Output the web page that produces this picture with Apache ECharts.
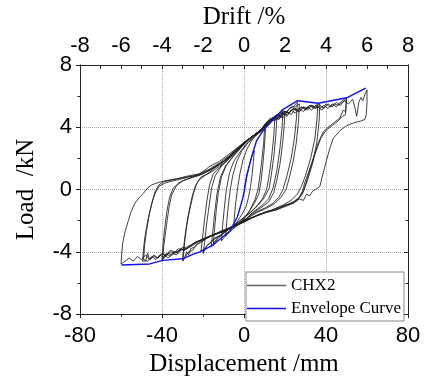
<!DOCTYPE html>
<html>
<head>
<meta charset="utf-8">
<script src="https://cdn.jsdelivr.net/npm/echarts@6/dist/echarts.min.js"></script>
<style>html,body{margin:0;padding:0;background:#fff}#c{width:427px;height:382px}</style>
</head>
<body>
<div id="c"></div>
<script>
// Axis ranges / ticks
var dispTicks = [-80, 80, 40];   // min, max, interval (mm)
var driftTicks = [-8, 8, 2];     // min, max, interval (%)
var loadTicks = [-8, 8, 4];      // min, max, interval (kN)

// Hysteresis cycles (displacement mm, load kN), in loading order
var c05 = [[0,0],[1,0.6],[2,1.2],[3,1.8],[4,2.2],[5,2.5],[4.6,1.8],[4,1.0],[3.2,0.2],[2.2,-0.5],[1,-1.1],[-1,-1.6],[-3,-2.0],[-5,-2.4],[-4.6,-1.6],[-4,-0.8],[-3,0.2],[-2,1.0],[-0.5,1.9],[1.5,2.6],[3.5,3.1]];
var c10a = [[6,3.5],[8,3.7],[10,3.9],[9.6,3.0],[8.8,2.0],[7.8,0.9],[6.8,0.0],[5.5,-0.6],[3,-1.3],[0,-1.9],[-3,-2.2],[-6,-2.6],[-9,-3.0],[-8.5,-2.2],[-7.8,-1.2],[-6.8,-0.1],[-5.5,0.9],[-3.5,1.8],[-1,2.5],[2,3.0],[5,3.4]];
var c10b = [[7,3.6],[9,3.8],[10.5,3.9],[10,2.8],[9.2,1.6],[8.3,0.5],[7.2,-0.3],[5,-0.9],[2,-1.5],[-1,-2.0],[-4,-2.4],[-8,-2.8],[-11,-3.3],[-10.5,-2.4],[-9.6,-1.2],[-8.6,0],[-7,1.1],[-5,1.8],[-2,2.4],[1,2.9],[4,3.3]];
var c15a = [[7,3.6],[10,4.0],[12.5,4.3],[15,4.5],[14.5,3.4],[13.4,2.0],[12,0.7],[11,0.0],[9,-0.6],[6,-1.1],[2,-1.6],[-2,-2.0],[-6,-2.4],[-10,-2.8],[-13,-3.2],[-15,-3.6],[-14.4,-2.6],[-13.5,-1.3],[-12.5,-0.2],[-11,0.8],[-8.5,1.6],[-5,2.2],[-1,2.8],[3,3.3],[6,3.6]];
var c15b = [[9,3.9],[12,4.2],[14,4.5],[16,4.6],[15.6,3.6],[14.6,2.2],[13.3,0.9],[12.3,0.1],[10,-0.5],[7,-1.0],[3,-1.5],[-1,-1.9],[-5,-2.3],[-9,-2.7],[-13,-3.1],[-16,-3.7],[-15.3,-2.8],[-14.3,-1.5],[-13.2,-0.3],[-11.5,0.8],[-9,1.5],[-6,2.0],[-2,2.6],[2,3.2],[5.5,3.5]];
var c20a = [[8,3.8],[11,4.2],[13,4.5],[15.5,4.7],[17,4.8],[19,5.1],[18.6,4.0],[17.5,2.6],[16,1.2],[14.2,0.1],[12,-0.6],[9,-1.0],[5,-1.4],[1,-1.9],[-3,-2.2],[-7,-2.5],[-11,-2.9],[-14,-3.1],[-16,-3.4],[-18,-3.6],[-20,-4.1],[-19.2,-3.4],[-18.4,-2.4],[-17.4,-1.4],[-15.8,0.1],[-14,0.9],[-11,1.5],[-7,2.0],[-3,2.6],[1,3.1],[5,3.5]];
var c20b = [[9,3.9],[12,4.3],[14,4.5],[16,4.8],[18,4.9],[20,5.0],[19.6,4.1],[18.8,2.9],[17.5,1.6],[16,0.6],[14.5,-0.2],[12,-0.8],[8,-1.2],[4,-1.5],[0,-2.0],[-4,-2.3],[-8,-2.6],[-12,-3.0],[-15,-3.2],[-18,-3.6],[-21,-4.0],[-20.3,-3.2],[-19.3,-2.0],[-18.2,-0.8],[-16.8,0.3],[-15,1.0],[-12,1.4],[-8,1.9],[-4,2.5],[0,3.0],[4,3.4]];
var c26a = [[8,3.8],[11,4.2],[14,4.6],[16,4.5],[18,4.9],[20,4.8],[22,5.2],[24,5.3],[26,5.6],[25.6,4.6],[24.6,3.3],[23,2.0],[21,0.9],[19,0.0],[17,-0.5],[14,-0.9],[10,-1.2],[5,-1.5],[0,-2.0],[-5,-2.4],[-10,-2.7],[-15,-2.9],[-19,-3.2],[-22,-3.4],[-24,-3.7],[-26,-3.8],[-27,-4.2],[-28,-4.0],[-29,-4.4],[-30,-4.5],[-29.3,-3.6],[-28.5,-2.7],[-27.5,-1.9],[-26,-1.0],[-24.5,-0.2],[-23,0.4],[-21,0.8],[-18,1.0],[-14,1.4],[-9,1.9],[-4,2.5],[0,3.0],[4,3.4]];
var c26b = [[8,3.8],[11,4.3],[13,4.4],[15,4.7],[17,4.6],[19,5.0],[21,5.0],[23,5.3],[25,5.3],[27,5.5],[26.6,4.4],[25.5,3.0],[24,1.8],[22,0.7],[20.5,0.0],[18,-0.5],[15,-0.9],[11,-1.2],[6,-1.5],[1,-1.9],[-4,-2.3],[-9,-2.6],[-14,-2.9],[-18,-3.1],[-21,-3.4],[-23,-3.5],[-25,-3.9],[-27,-4.0],[-28.5,-4.3],[-29.8,-4.6],[-29,-3.4],[-28,-2.4],[-26.8,-1.4],[-25.4,-0.5],[-23.8,0.2],[-22,0.6],[-19,0.9],[-15,1.2],[-10,1.7],[-5,2.3],[-1,2.8],[3,3.3]];
var c36a = [[8,3.8],[11,4.3],[14,4.5],[16,4.8],[18,4.6],[20,5.0],[22,4.9],[24,5.2],[26,5.1],[28,5.3],[30,5.2],[32,5.4],[34,5.3],[36,5.5],[35.6,4.5],[34.5,3.2],[32.5,2.0],[30,0.9],[28,0.2],[26,-0.3],[23,-0.7],[19,-1.0],[14,-1.3],[8,-1.6],[2,-1.9],[-3,-2.2],[-8,-2.5],[-13,-2.8],[-18,-3.1],[-22,-3.3],[-25,-3.6],[-28,-3.8],[-30,-3.7],[-32,-4.1],[-34,-4.0],[-36,-4.3],[-38,-4.1],[-39.7,-4.5],[-39.2,-3.7],[-38.5,-3.0],[-37.5,-2.0],[-36.5,-1.1],[-35.3,-0.35],[-32.8,0.27],[-29.6,0.58],[-25,0.8],[-20,1.0],[-15,1.4],[-10,1.8],[-5,2.3],[0,2.9],[4,3.4]];
var c36b = [[8,3.8],[12,4.4],[15,4.6],[17,4.5],[19,4.9],[21,4.8],[23,5.1],[25,5.2],[27,5.0],[29,5.3],[31,5.2],[33,5.4],[35,5.3],[37,5.5],[36.6,4.3],[35.5,3.0],[33.5,1.7],[31,0.6],[29,-0.1],[26.5,-0.6],[23,-0.9],[18,-1.1],[12,-1.4],[6,-1.7],[0,-2.1],[-5,-2.4],[-10,-2.7],[-15,-2.9],[-20,-3.2],[-24,-3.4],[-27,-3.7],[-29,-3.9],[-31,-3.8],[-33,-4.2],[-35,-4.1],[-37,-4.4],[-38.5,-4.2],[-40,-4.5],[-39.4,-3.4],[-38.6,-2.4],[-37.6,-1.4],[-36.3,-0.5],[-34.5,0.1],[-31,0.5],[-27,0.7],[-22,0.9],[-17,1.2],[-12,1.6],[-7,2.1],[-2,2.7],[3,3.3]];
var c50a = [[8,3.8],[12,4.4],[15,4.7],[17,4.5],[19,4.9],[21,4.7],[23,5.1],[25,4.9],[27,5.2],[29,5.0],[31,5.3],[33,5.1],[35,5.4],[37,5.2],[39,5.4],[41,5.2],[43,5.5],[45,5.3],[47,5.6],[50,5.9],[49.6,5.0],[48.4,5.1],[46.8,4.6],[44,4.3],[41,4.0],[38.7,3.7],[36.2,3.0],[34.5,2.3],[33,1.7],[31.5,1.1],[29.8,0.5],[28.5,-0.1],[27,-0.5],[24,-0.8],[19,-1.1],[13,-1.4],[7,-1.6],[1,-2.0],[-5,-2.4],[-10,-2.7],[-15,-2.9],[-20,-3.2],[-24,-3.4],[-28,-3.8],[-31,-3.9],[-34,-4.1],[-36,-4.0],[-38,-4.3],[-40,-4.1],[-42,-4.4],[-44,-4.2],[-46,-4.5],[-47,-4.1],[-48,-4.6],[-49.5,-4.6],[-49,-3.8],[-48.3,-3.0],[-47.2,-2.2],[-45.9,-1.4],[-44.6,-0.7],[-43.4,-0.15],[-41.5,0.3],[-39,0.5],[-34,0.65],[-28,0.85],[-22,1.0],[-17,1.3],[-12,1.7],[-7,2.2],[-2,2.8],[3,3.3]];
var c50b = [[8,3.8],[11,4.3],[14,4.6],[16,4.8],[18,4.7],[20,5.0],[22,4.9],[24,5.2],[26,5.0],[28,5.3],[30,5.1],[32,5.4],[34,5.2],[36,5.3],[38,5.1],[40,5.5],[42,5.3],[44,5.5],[46,5.4],[48,5.6],[50,5.8],[49.5,4.8],[48,4.7],[46,4.4],[43,4.1],[40,3.8],[37.5,3.3],[35.5,2.6],[33.5,1.8],[31.5,1.0],[30,0.3],[28.5,-0.3],[26,-0.7],[22,-1.0],[16,-1.3],[10,-1.5],[4,-1.8],[-2,-2.2],[-7,-2.5],[-12,-2.8],[-17,-3.0],[-22,-3.3],[-26,-3.6],[-29,-3.9],[-32,-3.8],[-35,-4.2],[-37,-4.1],[-39,-4.4],[-41,-4.2],[-43,-4.5],[-45,-4.3],[-47,-4.6],[-49,-4.5],[-48.5,-3.6],[-47.6,-2.7],[-46.4,-1.7],[-45,-0.9],[-43.5,-0.3],[-41.5,0.2],[-38,0.45],[-33,0.6],[-27,0.8],[-21,1.0],[-16,1.3],[-11,1.7],[-6,2.3],[-1,2.9],[4,3.4]];
var c60 = [[8,3.8],[11,4.3],[13,4.6],[15,4.4],[17,4.8],[19,4.6],[21,5.0],[23,4.8],[25,5.2],[27,5.0],[29,5.3],[31,5.1],[33,5.4],[35,5.2],[37,5.4],[39,5.2],[41,5.5],[43,5.3],[45,5.6],[47,5.4],[49,5.7],[51,5.5],[53,5.8],[54,5.3],[55,4.7],[56,5.6],[57,5.9],[58,5.7],[59,6.1],[60,6.4],[60,5.6],[59.6,4.8],[59,4.5],[57,4.4],[54,4.3],[50,4.1],[47,3.8],[45,3.5],[43.6,3.3],[42,2.7],[40.3,1.9],[38.5,1.0],[37,0.2],[35,0.0],[33.5,-0.1],[32,-0.4],[30.5,-0.3],[29,-0.7],[27,-0.6],[24,-0.9],[20,-1.0],[16,-1.3],[11,-1.4],[6,-1.7],[0,-2.0],[-5,-2.4],[-10,-2.6],[-15,-2.9],[-20,-3.2],[-25,-3.5],[-28,-3.7],[-31,-3.9],[-34,-4.0],[-36,-3.9],[-38,-4.2],[-40,-4.1],[-42,-4.4],[-44,-4.3],[-46,-4.5],[-48,-4.2],[-50,-4.5],[-52,-4.3],[-54,-4.6],[-56,-4.4],[-58,-4.6],[-60,-4.8],[-59.7,-4.2],[-59.2,-3.45],[-58,-2.7],[-56.4,-2.0],[-55,-1.4],[-53.2,-0.87],[-51,-0.5],[-49.1,-0.25],[-47,0.1],[-45,0.3],[-41,0.48],[-37,0.6],[-33,0.68],[-28,0.8],[-23,0.89],[-19.5,1.2],[-16.6,1.5],[-12,1.8],[-6.8,2.33],[-3,2.7],[1.3,3.16],[5,3.5],[7.8,3.7],[10,4.1],[13,4.5]];

// Envelope curve
var envelope = [[-59.7,-4.85],[-45.9,-4.78],[-39.7,-4.55],[-29.9,-4.45],[-24.7,-4.15],[-21.5,-4.0],[-15,-3.55],[-10,-3.0],[-6.8,-2.65],[-3.2,-1.75],[-0.7,-0.6],[0.3,0.0],[1.3,0.89],[3.8,2.13],[6.2,3.16],[9.4,3.8],[18.9,5.13],[26.2,5.7],[36.2,5.54],[50.1,5.89],[59.4,6.51]];

var hysteresis = [].concat(c05, c10a, c10b, c15a, c15b, c20a, c20b, c26a, c26b, c36a, c36b, c50a, c50b, c60);

var sans = 'Liberation Sans';
var serif = 'Liberation Serif';
var axisCol = '#222';
function baseAxis(r) {
  return {
    type: 'value', min: r[0], max: r[1], interval: r[2],
    axisLine: {show: true, onZero: false, lineStyle: {color: axisCol, width: 1}},
    minorTick: {show: true, splitNumber: 2, length: 2.5, lineStyle: {color: axisCol}},
    axisTick: {show: true, length: 4, lineStyle: {color: axisCol}},
    splitLine: {show: false},
    axisLabel: {fontFamily: sans, fontSize: 22, color: '#000'}
  };
}
var xb = baseAxis(dispTicks);
xb.position = 'bottom';
xb.axisTick.inside = false; xb.minorTick.inside = false;
xb.axisLabel.margin = 11;
xb.splitLine = {show: true, lineStyle: {type: [1, 1], color: '#aaa', width: 1}};
xb.name = 'Displacement /mm'; xb.nameLocation = 'middle'; xb.nameGap = 37;
xb.nameTextStyle = {fontFamily: serif, fontSize: 25, color: '#000'};

var xt = baseAxis(driftTicks);
xt.position = 'top';
xt.axisTick.inside = true;
xt.minorTick = {show: true, splitNumber: 2, length: 4, inside: true, lineStyle: {color: axisCol}};
xt.axisLabel.margin = 8;
xt.name = 'Drift /%'; xt.nameLocation = 'middle'; xt.nameGap = 25;
xt.nameTextStyle = {fontFamily: serif, fontSize: 25, color: '#000'};

var yl = baseAxis(loadTicks);
yl.position = 'left';
yl.axisLabel.margin = 8;
yl.splitLine = {show: true, lineStyle: {type: [1, 1], color: '#aaa', width: 1}};
yl.name = 'Load  /kN'; yl.nameLocation = 'middle'; yl.nameGap = 41;
yl.nameTextStyle = {fontFamily: serif, fontSize: 25, color: '#000'};

var yr = baseAxis(loadTicks);
yr.position = 'right';
yr.axisTick.inside = true;
yr.minorTick.inside = true;
yr.axisLabel = {show: false};

var chart = echarts.init(document.getElementById('c'), null, {renderer: 'canvas'});
chart.setOption({
  animation: false,
  backgroundColor: '#fff',
  grid: {left: 80, right: 19, top: 62, bottom: 61, containLabel: false},
  xAxis: [xb, xt],
  yAxis: [yl, yr],
  legend: {
    show: true, orient: 'vertical', left: 246, top: 272,
    backgroundColor: '#fff', borderColor: '#888', borderWidth: 1,
    padding: [5, 3, 4, 1], itemWidth: 39, itemHeight: 1.6, itemGap: 6,
    textStyle: {fontFamily: serif, fontSize: 17, color: '#000'},
    data: [
      {name: 'CHX2', icon: 'rect', itemStyle: {color: '#666'}},
      {name: 'Envelope Curve', icon: 'rect', itemStyle: {color: '#1010ee'}}
    ]
  },
  series: [
    {name: 'CHX2', type: 'line', xAxisIndex: 0, yAxisIndex: 0, symbol: 'none', data: hysteresis,
     lineStyle: {color: '#1e1e1e', width: 1, opacity: 0.85}, itemStyle: {color: '#666'}, z: 2},
    {name: 'Envelope Curve', type: 'line', xAxisIndex: 0, yAxisIndex: 0, symbol: 'none', data: envelope,
     lineStyle: {color: '#1010ee', width: 1.4}, itemStyle: {color: '#1010ee'}, z: 3}
  ]
});
</script>
</body>
</html>
